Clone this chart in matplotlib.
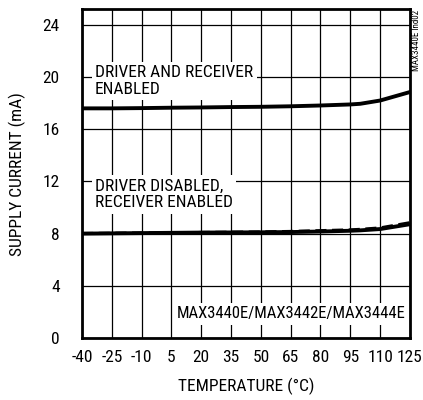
import matplotlib
matplotlib.use("Agg")
import matplotlib.pyplot as plt

plt.rcParams['font.family'] = ['Roboto Condensed', 'DejaVu Sans']
plt.rcParams['axes.unicode_minus'] = False

temp = [-40, -25, -10, 5, 20, 35, 50, 65, 80, 95, 100, 110, 125]
i_enabled = [17.6, 17.6, 17.62, 17.65, 17.67, 17.7, 17.72, 17.76, 17.82, 17.9, 17.95, 18.2, 18.85]
i_rx_solid = [8.0, 8.02, 8.04, 8.06, 8.08, 8.09, 8.1, 8.12, 8.16, 8.22, 8.25, 8.35, 8.72]
i_rx_dashed = [8.02, 8.04, 8.06, 8.08, 8.1, 8.12, 8.14, 8.18, 8.24, 8.3, 8.34, 8.45, 8.85]

xticks = [-40, -25, -10, 5, 20, 35, 50, 65, 80, 95, 110, 125]
yticks = [0, 4, 8, 12, 16, 20, 24]

fig = plt.figure(figsize=(4.23, 4.0), dpi=100)
ax = fig.add_axes([0.194, 0.155, 0.775, 0.822])

ax.plot(temp, i_enabled, color="black", linewidth=2.8, zorder=3)
ax.plot(temp, i_rx_solid, color="black", linewidth=2.8, zorder=3)
ax.plot(temp, i_rx_dashed, color="black", linewidth=2.0, linestyle=(0, (4, 2)), zorder=3)

ax.set_xlim(-40, 125)
ax.set_ylim(0, 25.2)
ax.set_xticks(xticks)
ax.set_yticks(yticks)
ax.tick_params(length=0, labelsize=12.5)
ax.tick_params(axis="x", pad=9)
ax.tick_params(axis="y", pad=16)
ax.grid(True, color="black", linewidth=0.9, zorder=1)
ax.set_axisbelow(True)
for side in ax.spines.values():
    side.set_linewidth(2.0)

ax.set_xlabel("TEMPERATURE (°C)", fontsize=12.5, labelpad=9)
ax.set_ylabel("SUPPLY CURRENT (mA)", fontsize=12.5, labelpad=12)

box = dict(facecolor="white", edgecolor="none", pad=2.5)
ax.text(-33.5, 19.7, "DRIVER AND RECEIVER\nENABLED", fontsize=12.5, va="center", ha="left",
        linespacing=1.15, bbox=box, zorder=2)
ax.text(-33.5, 11.0, "DRIVER DISABLED,\nRECEIVER ENABLED", fontsize=12.5, va="center", ha="left",
        linespacing=1.15, bbox=box, zorder=2)
ax.text(7.5, 1.85, "MAX3440E/MAX3442E/MAX3444E", fontsize=12, va="center", ha="left",
        bbox=box, zorder=2)

fig.text(0.984, 0.975, "MAX3440E lnd02", rotation=90, fontsize=6.5, ha="center", va="top")

fig.savefig("out.png", dpi=100)
